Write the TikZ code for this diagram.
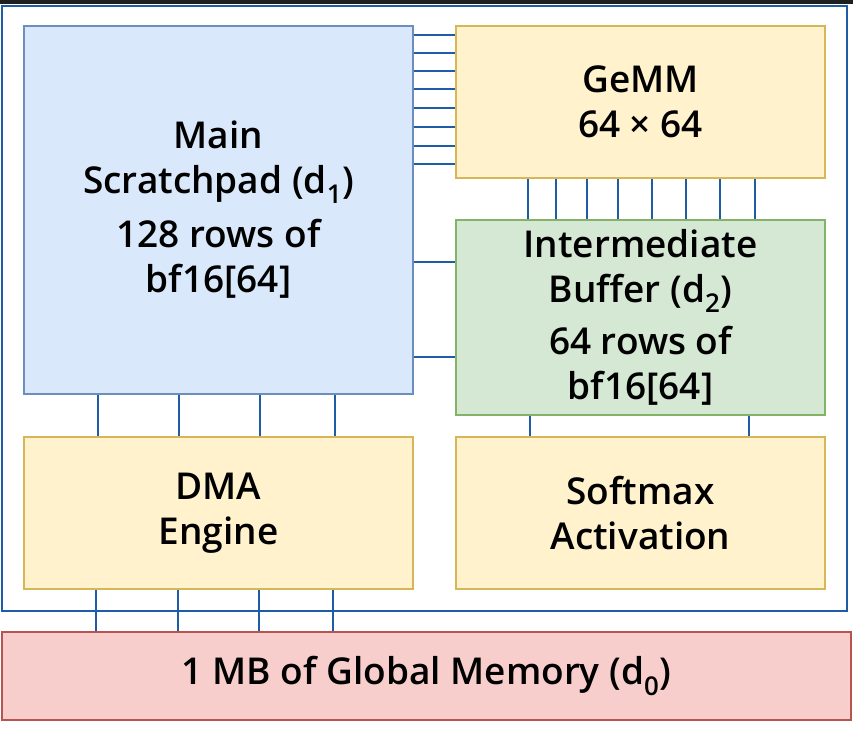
\documentclass[tikz,border=0pt]{standalone}
\usepackage{fontspec}
\setmainfont{Open Sans}[UprightFont=* Semibold]
\usetikzlibrary{positioning}
\definecolor{padfill}{HTML}{DAE8FC}
\definecolor{padline}{HTML}{6C8EBF}
\definecolor{unitfill}{HTML}{FFF2CC}
\definecolor{unitline}{HTML}{D6B656}
\definecolor{buffill}{HTML}{D5E8D4}
\definecolor{bufline}{HTML}{82B366}
\definecolor{memfill}{HTML}{F8CECC}
\definecolor{memline}{HTML}{B85450}
\definecolor{wireblue}{HTML}{1F5CA6}
\definecolor{topbar}{HTML}{1E1E1E}

\begin{document}
\begin{tikzpicture}[x=1pt,y=-1pt,
    every node/.style={font=\fontsize{37}{45}\selectfont, align=center, inner sep=0pt},
    block/.style={draw, line width=2pt},
    wire/.style={draw=wireblue, line width=1.6pt}]
    \useasboundingbox (0,0) rectangle (853,728);
    \fill[topbar] (0,0) rectangle (853,4);
    \draw[wireblue, line width=2.2pt] (2,6) rectangle (847,611);
    % blocks
    \node[block, fill=padfill, draw=padline, minimum width=389pt, minimum height=368pt] (pad) at (218.5,210) {Main\\Scratchpad (d\textsubscript{1})\\[9pt]128 rows of\\bf16[64]};
    \node[block, fill=unitfill, draw=unitline, minimum width=369pt, minimum height=152pt] (gemm) at (640.5,102) {GeMM\\64 × 64};
    \node[block, fill=buffill, draw=bufline, minimum width=369pt, minimum height=195pt] (buf) at (640.5,317.5) {Intermediate\\Buffer (d\textsubscript{2})\\[7pt]64 rows of\\bf16[64]};
    \node[block, fill=unitfill, draw=unitline, minimum width=389pt, minimum height=152pt] (dma) at (218.5,513) {DMA\\Engine};
    \node[block, fill=unitfill, draw=unitline, minimum width=369pt, minimum height=152pt] (soft) at (640.5,513) {Softmax\\Activation};
    \node[block, fill=memfill, draw=memline, minimum width=849pt, minimum height=88pt] (mem) at (426.5,676) {1 MB of Global Memory (d\textsubscript{0})};
    % wires
    \foreach \y in {35,53,71,89,108,127,146,164}
        \draw[wire] (pad.east |- 0,\y) -- (gemm.west |- 0,\y);
    \foreach \y in {262,357}
        \draw[wire] (pad.east |- 0,\y) -- (buf.west |- 0,\y);
    \foreach \x in {528,556,587,618,652,686,720,755}
        \draw[wire] (gemm.south -| \x,0) -- (buf.north -| \x,0);
    \foreach \x in {530,749}
        \draw[wire] (buf.south -| \x,0) -- (soft.north -| \x,0);
    \foreach \x in {98,179,260,335}
        \draw[wire] (pad.south -| \x,0) -- (dma.north -| \x,0);
    \foreach \x in {96,178,259,333}
        \draw[wire] (dma.south -| \x,0) -- (mem.north -| \x,0);
\end{tikzpicture}
\end{document}
